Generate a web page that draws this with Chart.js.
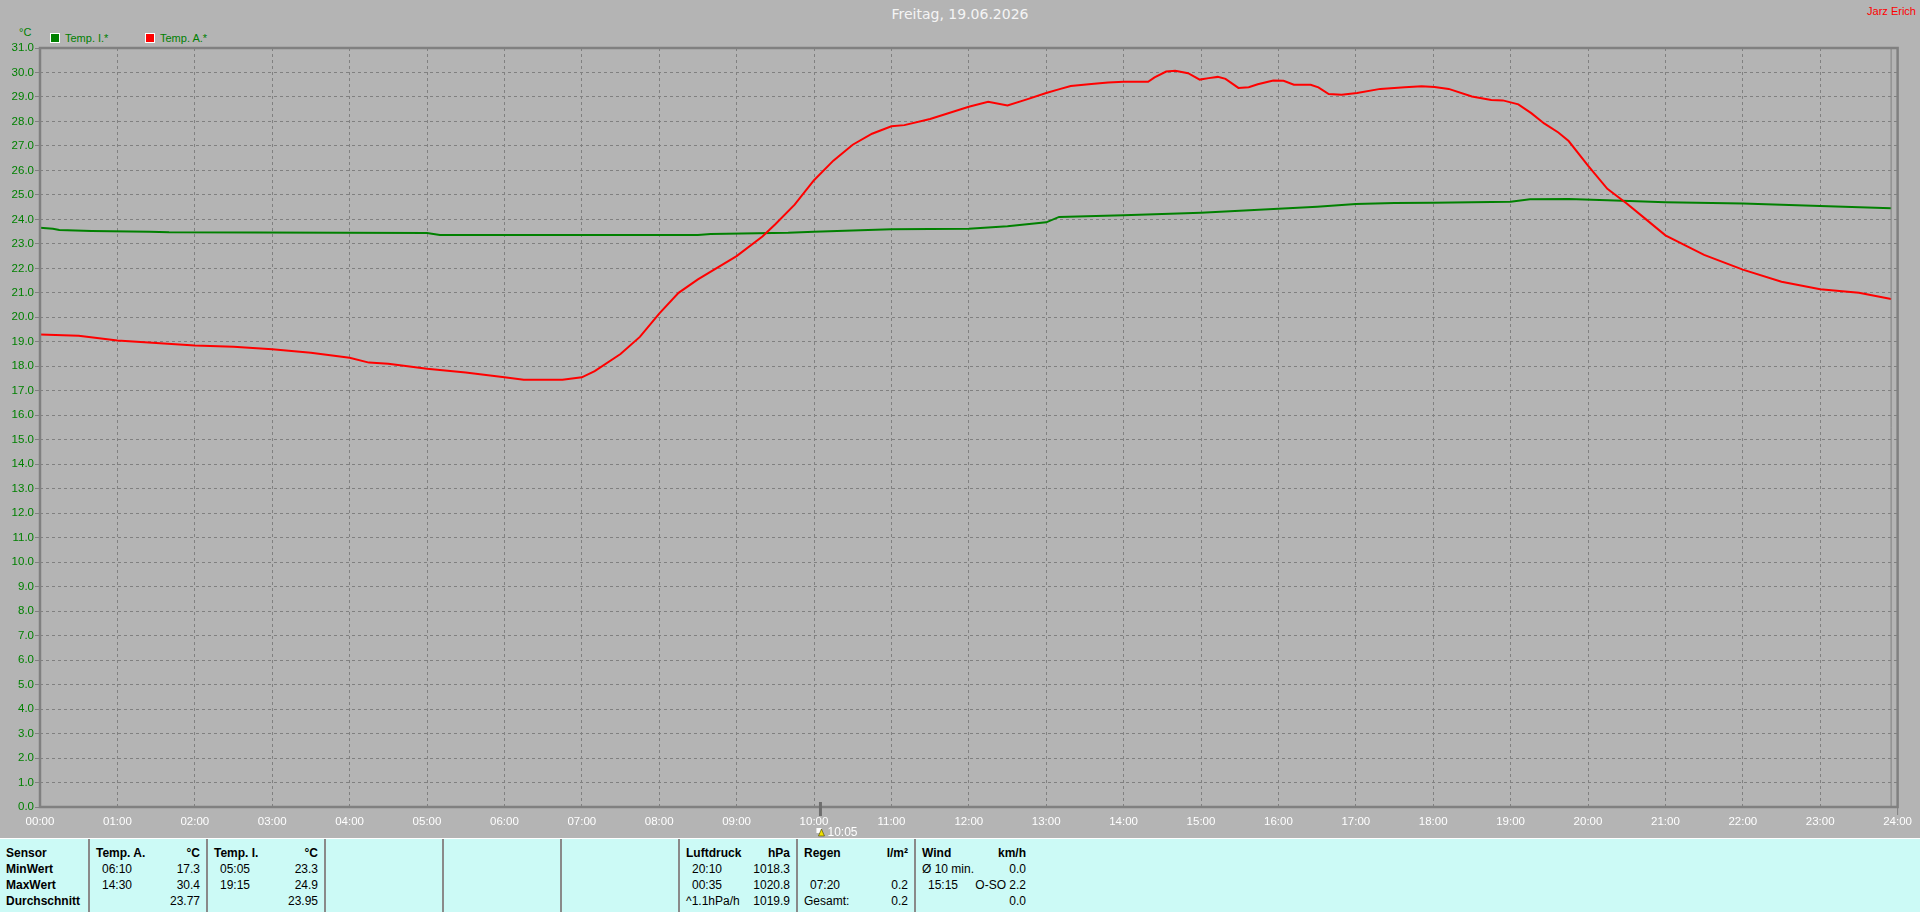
<!DOCTYPE html>
<html lang="de">
<head>
<meta charset="utf-8">
<title>Freitag, 19.06.2026</title>
<script src="https://cdn.jsdelivr.net/npm/chart.js@4.4.0/dist/chart.umd.min.js"></script>
<style>
  body { margin: 0; width: 1920px; height: 912px; overflow: hidden; background: #b4b4b4;
         font-family: 'Liberation Sans', Arial, sans-serif; }
  #titel { position: absolute; left: 0; top: 6px; width: 1920px; text-align: center;
           font: 14px 'DejaVu Sans', sans-serif; color: #f4f4f4; }
  #autor { position: absolute; right: 4px; top: 5px; font-size: 11px; color: #ff0000; }
  #einheit { position: absolute; left: 19px; top: 26px; font-size: 11px; color: #008000; }
  .leg { position: absolute; top: 30px; font-size: 11px; color: #008000; line-height: 16px; }
  .leg i { display: inline-block; width: 8px; height: 8px; border: 1px solid #fff;
           vertical-align: -1px; margin-right: 5px; }
  #diagramm { position: absolute; left: 0; top: 0; }
  #tabelle { position: absolute; left: 0; top: 838px; width: 1920px; height: 74px;
             background: #ccfaf6; border-top: 1px solid #fff; }
  .spalte { position: absolute; top: 0; height: 74px; padding-top: 6px; box-sizing: border-box;
            font-size: 12px; line-height: 16px; color: #000; }
  .spalte.trenn { border-left: 2px solid #8a8a8a; }
  .zeile { position: relative; height: 16px; white-space: nowrap; }
  .zeile .l { position: absolute; left: 6px; }
  .zeile .r { position: absolute; right: 6px; }
  .zeile .e { left: 12px; }
  .kopf { font-weight: bold; }
</style>
</head>
<body>
<div id="titel">Freitag, 19.06.2026</div>
<div id="autor">Jarz Erich</div>
<div id="einheit">°C</div>
<div class="leg" style="left:50px"><i style="background:#008000"></i>Temp. I.*</div>
<div class="leg" style="left:145px"><i style="background:#ff0000"></i>Temp. A.*</div>
<canvas id="diagramm" width="1920" height="838"></canvas>
<div id="tabelle"></div>

<script>
// =============================
// MESSWERTE (aus dem Tagesverlauf abgelesen)
// =============================

// Temp. A. (außen)
const zeitA = [
  "00:00","00:30","01:00","01:30","02:00","02:30","03:00","03:30","04:00","04:15",
  "04:30","05:00","05:30","06:00","06:15","06:45","07:00","07:10","07:30","07:45",
  "08:00","08:15","08:30","09:00","09:20","09:30","09:45","10:00","10:15","10:30",
  "10:45","11:00","11:10","11:30","12:00","12:15","12:30","12:45","13:00","13:09","13:19",
  "13:35","13:48","14:00","14:19","14:24","14:33","14:40","14:50","14:59","15:06",
  "15:13","15:19","15:29","15:37","15:44","15:56","16:04","16:12","16:25","16:31",
  "16:39","16:49","17:01","17:19","17:38","17:51","18:01","18:12","18:30","18:45",
  "18:54","19:06","19:16","19:26","19:37","19:45","20:00","20:15","20:30","20:45",
  "21:00","21:30","22:00","22:30","23:00","23:30","23:55"
]
const tempA = [
  19.3, 19.25, 19.05, 18.95, 18.85, 18.8, 18.7, 18.55, 18.35, 18.15,
  18.1, 17.9, 17.75, 17.55, 17.45, 17.45, 17.55, 17.8, 18.5, 19.2,
  20.15, 21.0, 21.55, 22.5, 23.3, 23.8, 24.6, 25.6, 26.4, 27.05,
  27.5, 27.8, 27.85, 28.1, 28.6, 28.8, 28.65, 28.9, 29.16, 29.3, 29.45,
  29.53, 29.59, 29.62, 29.62, 29.8, 30.04, 30.07, 29.97, 29.71, 29.77,
  29.82, 29.74, 29.37, 29.4, 29.52, 29.67, 29.66, 29.5, 29.5, 29.39,
  29.12, 29.09, 29.16, 29.33, 29.4, 29.44, 29.41, 29.33, 29.02, 28.88,
  28.86, 28.7, 28.34, 27.92, 27.55, 27.2, 26.2, 25.25, 24.65, 24.0,
  23.35, 22.55, 21.95, 21.45, 21.15, 21.0, 20.75
]

// Temp. I. (innen)
const zeitI = [
  "00:00","00:10","00:15","00:40","01:25","01:40","05:00","05:10","08:30","08:40",
  "09:40","10:00","10:30","11:00","12:00","12:30","13:00","13:10","14:00","15:00",
  "16:00","16:30","17:00","17:30","18:00","19:00","19:15","19:45","20:15","21:00",
  "22:00","23:00","23:55"
]
const tempI = [
  23.66, 23.62, 23.57, 23.53, 23.5, 23.47, 23.44, 23.36, 23.36, 23.4,
  23.45, 23.5, 23.55, 23.6, 23.62, 23.72, 23.88, 24.1, 24.17, 24.27,
  24.43, 24.52, 24.63, 24.67, 24.68, 24.72, 24.82, 24.83, 24.78, 24.7,
  24.65, 24.55, 24.45
]

// Achsen
const yMin = 0
const yMax = 31
const xStunden = 24
const markerZeit = "10:05"

// Tabelle unten
const tabelle = [
  { kopf: ["Sensor", ""], zeilen: [["MinWert", ""], ["MaxWert", ""], ["Durchschnitt", ""]], fett: true },
  { kopf: ["Temp. A.", "°C"], zeilen: [["06:10", "17.3"], ["14:30", "30.4"], ["", "23.77"]] },
  { kopf: ["Temp. I.", "°C"], zeilen: [["05:05", "23.3"], ["19:15", "24.9"], ["", "23.95"]] },
  { kopf: ["", ""], zeilen: [] },
  { kopf: ["", ""], zeilen: [] },
  { kopf: ["", ""], zeilen: [] },
  { kopf: ["Luftdruck", "hPa"], zeilen: [["20:10", "1018.3"], ["00:35", "1020.8"], ["^1.1hPa/h", "1019.9", true]] },
  { kopf: ["Regen", "l/m²"], zeilen: [["", ""], ["07:20", "0.2"], ["Gesamt:", "0.2", true]] },
  { kopf: ["Wind", "km/h"], zeilen: [["Ø 10 min.", "0.0", true], ["15:15", "O-SO 2.2"], ["", "0.0"]] }
]
const spaltenLinks = [0, 88, 206, 324, 442, 560, 678, 796, 914]
const spaltenBreite = [88, 118, 118, 118, 118, 118, 118, 118, 118]


// =============================
// HILFSFUNKTIONEN
// =============================

function minuten(hhmm){
    const t = hhmm.split(":")
    return Number(t[0]) * 60 + Number(t[1])
}

function punkte(zeiten, werte){
    return zeiten.map((z, i) => ({ x: minuten(z), y: werte[i] }))
}

function zweistellig(n){
    return String(n).padStart(2, "0")
}


// =============================
// TABELLE AUFBAUEN
// =============================

function baueTabelle(){
    const box = document.getElementById("tabelle")
    tabelle.forEach((sp, i) => {
        const div = document.createElement("div")
        div.className = "spalte" + (i > 0 ? " trenn" : "")
        div.style.left = spaltenLinks[i] + "px"
        div.style.width = spaltenBreite[i] + "px"

        const zeilen = [sp.kopf].concat(sp.zeilen)
        zeilen.forEach((z, j) => {
            const row = document.createElement("div")
            row.className = "zeile" + ((j == 0 || sp.fett) ? " kopf" : "")
            const l = document.createElement("span")
            l.className = "l" + ((j > 0 && !sp.fett && !z[2]) ? " e" : "")
            l.textContent = z[0]
            const r = document.createElement("span")
            r.className = "r"
            r.textContent = z[1]
            row.appendChild(l)
            row.appendChild(r)
            div.appendChild(row)
        })
        box.appendChild(div)
    })
}
baueTabelle()


// =============================
// RAHMEN UND ZEITMARKE
// =============================

const schrift = "'Liberation Sans', Arial, sans-serif"

const rahmen = {
    id: "rahmen",
    afterDraw(chart){
        const ctx = chart.ctx
        const a = chart.chartArea
        ctx.save()
        ctx.strokeStyle = "#808080"
        ctx.lineWidth = 2.5
        ctx.setLineDash([])
        ctx.strokeRect(a.left, a.top, a.right - a.left, a.bottom - a.top)
        ctx.lineWidth = 1
        ctx.beginPath()
        ctx.moveTo(a.right - 6.5, a.top)
        ctx.lineTo(a.right - 6.5, a.bottom)
        ctx.stroke()
        ctx.beginPath()
        ctx.moveTo(a.right, a.bottom)
        ctx.lineTo(a.right, a.bottom + 8)
        ctx.stroke()

        // Zeitmarke
        const mx = chart.scales.x.getPixelForValue(minuten(markerZeit))
        ctx.strokeStyle = "#6e6e6e"
        ctx.lineWidth = 3
        ctx.beginPath()
        ctx.moveTo(mx, a.bottom - 5)
        ctx.lineTo(mx, a.bottom + 9)
        ctx.stroke()

        ctx.fillStyle = "#ffffff"
        ctx.fillRect(mx - 4, a.bottom + 21, 5, 5)
        ctx.fillStyle = "#f0e000"
        ctx.strokeStyle = "#404000"
        ctx.lineWidth = 0.6
        ctx.beginPath()
        ctx.moveTo(mx + 1, a.bottom + 22)
        ctx.lineTo(mx - 2, a.bottom + 29)
        ctx.lineTo(mx + 4, a.bottom + 29)
        ctx.closePath()
        ctx.fill()
        ctx.stroke()

        ctx.fillStyle = "#ffffff"
        ctx.font = "12px " + schrift
        ctx.textBaseline = "middle"
        ctx.textAlign = "left"
        ctx.fillText(markerZeit, mx + 7, a.bottom + 26)
        ctx.restore()
    }
}


// =============================
// DIAGRAMM
// =============================

new Chart(document.getElementById("diagramm").getContext("2d"), {

    type: "line",

    data: {
        datasets: [
            {
                label: "Temp. A.*",
                data: punkte(zeitA, tempA),
                borderColor: "#ff0000",
                borderWidth: 2,
                pointRadius: 0,
                tension: 0
            },
            {
                label: "Temp. I.*",
                data: punkte(zeitI, tempI),
                borderColor: "#008000",
                borderWidth: 2,
                pointRadius: 0,
                tension: 0
            }
        ]
    },

    options: {
        responsive: false,
        animation: false,
        layout: { padding: { top: 48, right: 20, left: 0, bottom: 0 } },
        plugins: {
            legend: { display: false },
            tooltip: { enabled: false }
        },
        scales: {
            x: {
                type: "linear",
                min: 0,
                max: xStunden * 60,
                afterFit(scale){ scale.height = 31 },
                ticks: {
                    stepSize: 60,
                    color: "#ffffff",
                    font: { family: schrift, size: 11.5 },
                    padding: 8,
                    maxRotation: 0,
                    autoSkip: false,
                    callback: v => zweistellig(v / 60) + ":00"
                },
                grid: { color: "#808080", lineWidth: 1, drawTicks: false },
                border: { display: false, dash: [3, 3] }
            },
            y: {
                min: yMin,
                max: yMax,
                afterFit(scale){ scale.width = 40 },
                ticks: {
                    stepSize: 1,
                    color: "#008000",
                    font: { family: schrift, size: 11.5 },
                    padding: 1,
                    callback: v => v.toFixed(1)
                },
                grid: {
                    color: "#808080",
                    lineWidth: 1,
                    tickLength: 5,
                    tickColor: "#808080",
                    tickBorderDash: []
                },
                border: { display: false, dash: [3, 3] }
            }
        }
    },

    plugins: [rahmen]

})
</script>
</body>
</html>
